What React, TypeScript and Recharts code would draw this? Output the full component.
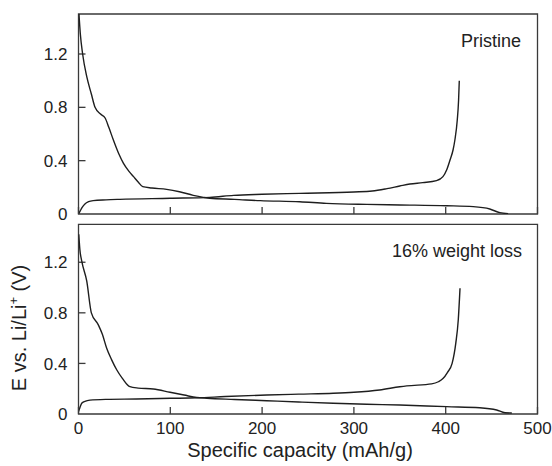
import React from "react";
import { LineChart, Line, XAxis, YAxis, ReferenceArea, ReferenceLine } from "recharts";

// ---- data (capacity in mAh/g, potential in V) ----
const X_TICKS = [0, 100, 200, 300, 400, 500];
const Y_TICKS = [0, 0.4, 0.8, 1.2];
const X_DOMAIN = [0, 500];
const Y_DOMAIN = [0, 1.5];

const TOP_DIS_CAP = [0.5, 2, 4.5, 9, 14, 18, 24, 29, 33, 38, 44, 49, 55, 60, 65, 70, 80, 96, 110, 125, 136, 143, 170, 198, 241, 270, 314, 350, 401, 430, 448, 459, 468];
const TOP_DIS_V = [1.5, 1.35, 1.2, 1.03, 0.9, 0.8, 0.75, 0.72, 0.65, 0.555, 0.45, 0.38, 0.32, 0.28, 0.24, 0.205, 0.195, 0.185, 0.167, 0.14, 0.125, 0.118, 0.11, 0.1, 0.092, 0.08, 0.072, 0.068, 0.062, 0.055, 0.0375, 0.01, 0.003];

const TOP_CHG_CAP = [0, 1.6, 4, 7, 11, 16, 30, 45, 100, 143, 169, 200, 241, 300, 320, 336, 350, 361, 375, 390, 397, 401, 404.7, 408, 410, 412.6, 414, 414.8];
const TOP_CHG_V = [0, 0.02, 0.05, 0.075, 0.092, 0.1, 0.106, 0.11, 0.118, 0.125, 0.14, 0.148, 0.155, 0.165, 0.172, 0.19, 0.21, 0.225, 0.235, 0.25, 0.28, 0.33, 0.405, 0.48, 0.555, 0.705, 0.85, 1.0];

const BOT_DIS_CAP = [0.3, 1.5, 3.5, 9, 14, 21.6, 26, 30.7, 36, 41.6, 48, 56, 65, 81.5, 99.7, 115, 128.8, 140, 170, 205, 240, 277.5, 314, 350, 401, 437, 455.5, 464.6, 472];
const BOT_DIS_V = [1.42, 1.3, 1.21, 1.05, 0.8, 0.705, 0.63, 0.52, 0.43, 0.35, 0.28, 0.216, 0.205, 0.198, 0.172, 0.15, 0.13, 0.124, 0.115, 0.105, 0.095, 0.085, 0.077, 0.071, 0.058, 0.05, 0.032, 0.01, 0.008];

const BOT_CHG_CAP = [0, 1.5, 3.5, 7, 12.5, 30, 63, 100, 129, 160, 205, 240, 277.5, 300, 328, 350, 357.5, 384.7, 392, 397, 402, 407, 411, 413.7, 415.6];
const BOT_CHG_V = [0.02, 0.05, 0.085, 0.1, 0.11, 0.116, 0.119, 0.124, 0.128, 0.138, 0.15, 0.157, 0.164, 0.172, 0.19, 0.215, 0.222, 0.238, 0.255, 0.28, 0.33, 0.4, 0.56, 0.745, 0.995];

const PANEL_LABELS = ["Pristine", "16% weight loss"];
const X_TITLE = "Specific capacity (mAh/g)";

const zip = (cap: number[], v: number[]) => cap.map((c, i) => ({ c, v: v[i] }));

// ---- styling ----
const FONT = "'Liberation Sans', Arial, Helvetica, sans-serif";
const TEXT = "#222";
const FRAME = "#3a3a3a";
const LINE = "#1e1e1e";
const TICK_LEN = 7;
const Y_AXIS_W = 78.5;
const Y_MARGIN = 11;
const X_MARGIN = 7;

const YTick = (props: any) => {
  const x = Number(props.x);
  const y = Number(props.y);
  return (
    <text x={x} y={y} dy="0.36em" textAnchor="end" fontSize={17} fontFamily={FONT} fill={TEXT}>
      {String(props.payload.value)}
    </text>
  );
};

// short inward tick drawn from the left end of a full-width reference line
const InwardYTick = (props: any) => {
  const x1 = Number(props.x1);
  const y1 = Number(props.y1);
  return <path d={`M${x1},${y1}H${x1 + TICK_LEN}`} stroke={FRAME} strokeWidth={1.3} fill="none" />;
};

const makeXTick = (showLabel: boolean) => (props: any) => {
  const x = Number(props.x);
  const y = Number(props.y);
  const ay = y - X_MARGIN;
  return (
    <g>
      <path d={`M${x},${ay}V${ay - TICK_LEN}`} stroke={FRAME} strokeWidth={1.3} fill="none" />
      {showLabel && (
        <text x={x} y={y} dy="0.75em" textAnchor="middle" fontSize={17} fontFamily={FONT} fill={TEXT}>
          {String(props.payload.value)}
        </text>
      )}
    </g>
  );
};

const XTickNoLabel = makeXTick(false);
const XTickLabel = makeXTick(true);

type PanelProps = {
  top: number;
  height: number;
  margin: { top: number; right: number; bottom: number; left: number };
  dis: { c: number; v: number }[];
  chg: { c: number; v: number }[];
  labels: boolean;
};

const Panel = ({ top, height, margin, dis, chg, labels }: PanelProps) => (
  <div style={{ position: "absolute", left: 0, top }}>
    <LineChart width={552} height={height} margin={margin}>
      <XAxis
        dataKey="c"
        type="number"
        domain={X_DOMAIN}
        ticks={X_TICKS}
        interval={0}
        height={1}
        tickLine={false}
        tickSize={0}
        tickMargin={X_MARGIN}
        axisLine={false}
        tick={labels ? XTickLabel : XTickNoLabel}
        allowDataOverflow
      />
      <YAxis
        type="number"
        domain={Y_DOMAIN}
        ticks={Y_TICKS}
        interval={0}
        width={Y_AXIS_W}
        tickLine={false}
        tickSize={0}
        tickMargin={Y_MARGIN}
        axisLine={false}
        tick={YTick}
        allowDataOverflow
      />
      {Y_TICKS.filter((v) => v > 0).map((v) => (
        <ReferenceLine key={v} y={v} shape={InwardYTick} stroke={FRAME} ifOverflow="visible" />
      ))}
      <ReferenceArea
        x1={X_DOMAIN[0]}
        x2={X_DOMAIN[1]}
        y1={Y_DOMAIN[0]}
        y2={Y_DOMAIN[1]}
        fill="none"
        fillOpacity={0}
        stroke={FRAME}
        strokeWidth={1.3}
        strokeOpacity={1}
        ifOverflow="visible"
      />
      <Line data={dis} dataKey="v" type="monotone" stroke={LINE} strokeWidth={1.4} dot={false} isAnimationActive={false} />
      <Line data={chg} dataKey="v" type="monotone" stroke={LINE} strokeWidth={1.4} dot={false} isAnimationActive={false} />
    </LineChart>
  </div>
);

export default function App() {
  return (
    <div style={{ position: "absolute", left: 0, top: 0, width: 552, height: 466, background: "#fff" }}>
      <Panel
        top={0}
        height={224}
        margin={{ top: 14, right: 14.5, bottom: 9, left: 0 }}
        dis={zip(TOP_DIS_CAP, TOP_DIS_V)}
        chg={zip(TOP_CHG_CAP, TOP_CHG_V)}
        labels={false}
      />
      <Panel
        top={218}
        height={248}
        margin={{ top: 6.3, right: 14.5, bottom: 51, left: 0 }}
        dis={zip(BOT_DIS_CAP, BOT_DIS_V)}
        chg={zip(BOT_CHG_CAP, BOT_CHG_V)}
        labels={true}
      />
      <svg
        width={552}
        height={466}
        style={{ position: "absolute", left: 0, top: 0, pointerEvents: "none" }}
      >
        <text x={521} y={46.5} textAnchor="end" fontSize={18} fontFamily={FONT} fill={TEXT}>
          {PANEL_LABELS[0]}
        </text>
        <text x={522} y={257} textAnchor="end" fontSize={18} fontFamily={FONT} fill={TEXT}>
          {PANEL_LABELS[1]}
        </text>
        <text x={300} y={457} textAnchor="middle" fontSize={20} fontFamily={FONT} fill={TEXT}>
          {X_TITLE}
        </text>
        <text
          transform="translate(26,328) rotate(-90)"
          textAnchor="middle"
          fontSize={20}
          fontFamily={FONT}
          fill={TEXT}
        >
          E vs. Li/Li
          <tspan fontSize={13} dy={-8}>+</tspan>
          <tspan dy={8}> (V)</tspan>
        </text>
      </svg>
    </div>
  );
}
